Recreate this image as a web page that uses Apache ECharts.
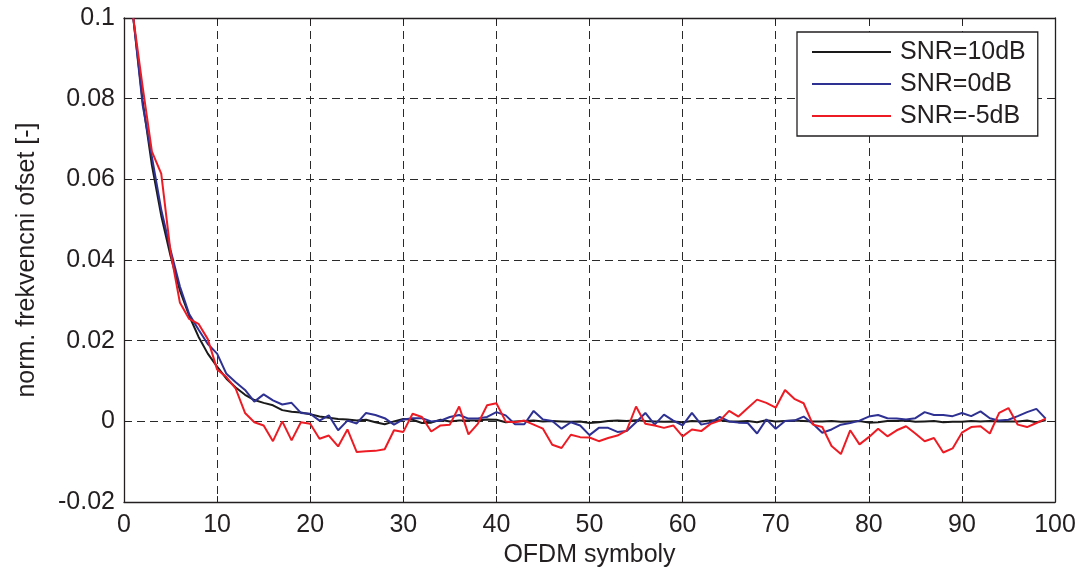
<!DOCTYPE html>
<html>
<head>
<meta charset="utf-8">
<script src="https://cdn.jsdelivr.net/npm/echarts@6/dist/echarts.min.js"></script>
<style>
  html, body { margin: 0; padding: 0; background: #fff; }
  #chart { width: 1080px; height: 573px; }
</style>
</head>
<body>
<div id="chart"></div>
<script>
// OFDM symbol index (1..99)
const symbolIndex = Array.from({ length: 99 }, (_, i) => i + 1);

// Normalized frequency offset estimate per OFDM symbol
const snr10 = [
  0.1, 0.0795, 0.0635, 0.051, 0.041, 0.0325, 0.0262, 0.021, 0.0168, 0.0136,
  0.0106, 0.0084, 0.0066, 0.0053, 0.0046, 0.004, 0.0028, 0.0024, 0.0022, 0.0018,
  0.0012, 0.0009, 0.0006, 0.0005, 0.0002, 0.0004, -0.0002, -0.0007, 0.0, 0.0006,
  0.0004, -0.0004, -0.0003, 0.0004, 0.0, 0.0002, 0.0002, 0.0002, 0.0005, 0.0004,
  -0.0002, 0.0, 0.0001, 0.0002, 0.0, 0.0001, 0.0, -0.0001, 0.0, -0.0004,
  -0.0002, 0.0001, 0.0002, 0.0001, 0.0003, 0.0001, 0.0, -0.0001, 0.0, -0.0002,
  0.0001, 0.0, 0.0002, 0.0003, 0.0, 0.0, 0.0001, -0.0002, 0.0003, 0.0,
  0.0001, 0.0002, 0.0001, 0.0, 0.0, 0.0001, -0.0001, 0.0, 0.0001, -0.0003,
  -0.0002, 0.0001, 0.0001, 0.0002, -0.0001, 0.0, 0.0001, -0.0002, -0.0001, -0.0001,
  0.0001, 0.0, 0.0001, 0.0, 0.0, 0.0, 0.0002, -0.0002, 0.0003
];

const snr0 = [
  0.1, 0.0785, 0.0655, 0.0525, 0.0425, 0.0335, 0.0266, 0.0228, 0.0192, 0.0168,
  0.0118, 0.0097, 0.0078, 0.0049, 0.0067, 0.0052, 0.0042, 0.0046, 0.0021, 0.0019,
  0.0002, 0.0015, -0.0022, 0.0002, -0.0005, 0.0021, 0.0016, 0.0008, -0.0008, 0.0005,
  0.0008, 0.0008, 0.0, 0.0002, 0.0011, 0.0016, 0.0007, 0.0007, 0.0011, 0.0023,
  0.0015, -0.0007, -0.0007, 0.0026, 0.0005, 0.0001, -0.0018, -0.0002, -0.001, -0.0034,
  -0.0016, -0.0016, -0.0026, -0.0024, -0.0002, 0.0021, -0.0008, 0.0017, 0.0002, -0.001,
  0.0021, -0.0008, -0.0003, 0.0011, 0.0, -0.0003, -0.0004, -0.003, 0.0005, -0.0018,
  0.0001, 0.0002, 0.0012, -0.0006, -0.0028, -0.002, -0.0008, -0.0004, 0.0002, 0.0012,
  0.0016, 0.0008, 0.0007, 0.0005, 0.0008, 0.0023, 0.0016, 0.0016, 0.0013, 0.0021,
  0.0013, 0.0025, 0.0008, 0.0002, 0.0004, 0.0013, 0.0023, 0.0031, 0.0007
];

const snrMinus5 = [
  0.1, 0.083, 0.0669, 0.0614, 0.042, 0.0295, 0.0254, 0.0242, 0.0204, 0.0129,
  0.011, 0.0081, 0.0021, -0.0002, -0.001, -0.0049, 0.0, -0.0047, -0.0002, -0.0006,
  -0.0043, -0.0035, -0.0062, -0.002, -0.0076, -0.0074, -0.0073, -0.0069, -0.0022, -0.0026,
  0.0019, 0.0011, -0.0025, -0.001, -0.0008, 0.0037, -0.0032, -0.0006, 0.004, 0.0045,
  0.0, -0.0002, 0.0002, -0.0008, -0.0018, -0.0058, -0.0066, -0.0033, -0.0039, -0.004,
  -0.0049, -0.0041, -0.0035, -0.0022, 0.0037, -0.0006, -0.001, -0.0016, -0.001, -0.0037,
  -0.002, -0.0024, -0.0006, 0.0002, 0.0026, 0.0012, 0.0033, 0.0054, 0.0046, 0.0034,
  0.0078, 0.0056, 0.0045, -0.0008, -0.0014, -0.0061, -0.0081, -0.0022, -0.0057, -0.0039,
  -0.0018, -0.0037, -0.0022, -0.0012, -0.003, -0.0049, -0.0041, -0.0077, -0.0067, -0.0028,
  -0.0014, -0.0012, -0.003, 0.0021, 0.0033, -0.0008, -0.0014, -0.0004, 0.0007
];

const seriesNames = ['SNR=10dB', 'SNR=0dB', 'SNR=-5dB'];
const seriesColors = ['#1a1a1a', '#2e3192', '#ed1c24'];
const seriesValues = [snr10, snr0, snrMinus5];

const FONT = 'Liberation Sans, Arial, Helvetica, sans-serif';
const TEXT = '#231f20';
const FS = 25;

function pairs(values) {
  return values.map((v, i) => [symbolIndex[i], v]);
}

function fmtY(v) {
  return String(parseFloat(v.toFixed(4)));
}

const chart = echarts.init(document.getElementById('chart'), null, { renderer: 'canvas' });

const gridLine = { show: true, lineStyle: { color: '#2a2a2a', width: 1, type: [8, 5] } };
const frameLine = { show: true, onZero: false, lineStyle: { color: '#231f20', width: 1.3 } };
const innerTick = { show: true, inside: true, length: 6, lineStyle: { color: '#231f20', width: 1 } };

chart.setOption({
  animation: false,
  backgroundColor: '#ffffff',
  grid: { left: 124, right: 25, top: 18, bottom: 70, containLabel: false },
  legend: {
    data: seriesNames.map(n => ({ name: n, icon: 'rect' })),
    orient: 'vertical',
    left: 797,
    top: 32,
    itemWidth: 79,
    itemHeight: 2,
    itemGap: 6,
    padding: [7, 12, 7, 15],
    backgroundColor: '#ffffff',
    borderColor: '#231f20',
    borderWidth: 1.3,
    borderRadius: 0,
    textStyle: {
      fontFamily: FONT,
      fontSize: FS,
      color: TEXT,
      lineHeight: 26,
      padding: [0, 0, 0, 4]
    }
  },
  xAxis: [
    {
      type: 'value',
      position: 'bottom',
      min: 0,
      max: 100,
      interval: 10,
      axisLine: frameLine,
      axisTick: innerTick,
      splitLine: gridLine,
      axisLabel: { fontFamily: FONT, fontSize: FS, color: TEXT, margin: 11 },
      name: 'OFDM symboly',
      nameLocation: 'middle',
      nameGap: 40,
      nameTextStyle: { fontFamily: FONT, fontSize: FS, color: TEXT }
    },
    {
      type: 'value',
      position: 'top',
      min: 0,
      max: 100,
      interval: 10,
      axisLine: frameLine,
      axisTick: innerTick,
      splitLine: { show: false },
      axisLabel: { show: false }
    }
  ],
  yAxis: [
    {
      type: 'value',
      position: 'left',
      min: -0.02,
      max: 0.1,
      interval: 0.02,
      axisLine: frameLine,
      axisTick: innerTick,
      splitLine: gridLine,
      axisLabel: { fontFamily: FONT, fontSize: FS, color: TEXT, margin: 9, formatter: fmtY },
      name: 'norm. frekvencni ofset [-]',
      nameLocation: 'middle',
      nameRotate: 90,
      nameGap: 84,
      nameTextStyle: { fontFamily: FONT, fontSize: FS, color: TEXT }
    },
    {
      type: 'value',
      position: 'right',
      min: -0.02,
      max: 0.1,
      interval: 0.02,
      axisLine: frameLine,
      axisTick: innerTick,
      splitLine: { show: false },
      axisLabel: { show: false }
    }
  ],
  series: seriesNames.map((name, k) => ({
    name: name,
    type: 'line',
    xAxisIndex: 0,
    yAxisIndex: 0,
    data: pairs(seriesValues[k]),
    showSymbol: false,
    symbol: 'none',
    lineStyle: { color: seriesColors[k], width: 2 },
    itemStyle: { color: seriesColors[k] },
    z: 3 + k
  }))
});
</script>
</body>
</html>
